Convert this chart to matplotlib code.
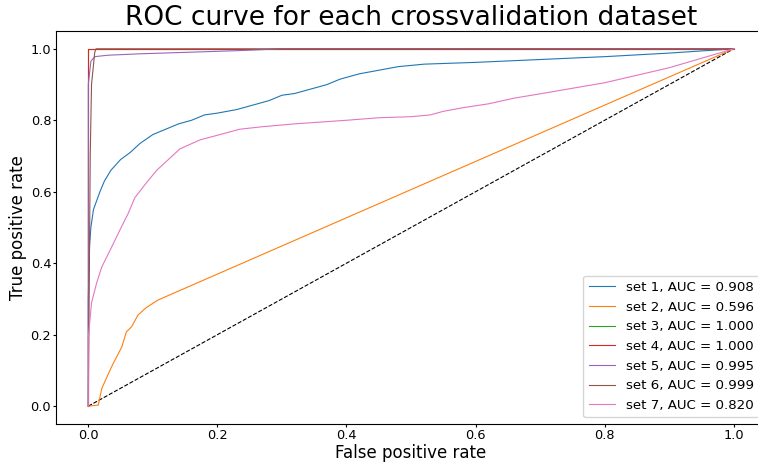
#!/usr/bin/env python3

import matplotlib
matplotlib.use('Agg')
import matplotlib.pyplot as plt


# ROC points (false positive rate, true positive rate) for each validation set
set1_fpr = [0.0, 0.0, 0.002, 0.004, 0.008, 0.012, 0.018, 0.025, 0.035, 0.05, 0.065, 0.08,
            0.1, 0.12, 0.14, 0.16, 0.18, 0.2, 0.23, 0.26, 0.28, 0.3, 0.32, 0.35, 0.37,
            0.39, 0.42, 0.45, 0.48, 0.52, 0.6, 0.7, 0.8, 0.9, 1.0]
set1_tpr = [0.0, 0.3, 0.45, 0.5, 0.55, 0.57, 0.6, 0.63, 0.66, 0.69, 0.71, 0.735,
            0.76, 0.775, 0.79, 0.80, 0.815, 0.82, 0.83, 0.845, 0.855, 0.87, 0.875, 0.89, 0.9,
            0.915, 0.93, 0.94, 0.95, 0.957, 0.962, 0.97, 0.978, 0.988, 1.0]

set2_fpr = [0.0, 0.0155, 0.021, 0.028, 0.036, 0.044, 0.052, 0.059, 0.067, 0.077, 0.09, 0.108, 1.0]
set2_tpr = [0.0, 0.003, 0.05, 0.078, 0.11, 0.138, 0.166, 0.208, 0.222, 0.255, 0.276, 0.297, 1.0]

set3_fpr = [0.0, 0.0, 1.0]
set3_tpr = [0.0, 1.0, 1.0]

set4_fpr = [0.0, 0.0, 1.0]
set4_tpr = [0.0, 1.0, 1.0]

set5_fpr = [0.0, 0.0, 0.004, 0.01, 0.03, 0.08, 0.15, 0.235, 0.3, 1.0]
set5_tpr = [0.0, 0.9, 0.965, 0.978, 0.982, 0.986, 0.99, 0.995, 1.0, 1.0]

set6_fpr = [0.0, 0.003, 0.005, 0.01, 0.012, 1.0]
set6_tpr = [0.0, 0.7, 0.9, 0.99, 1.0, 1.0]

set7_fpr = [0.0, 0.0, 0.005, 0.013, 0.021, 0.034, 0.049, 0.062, 0.072, 0.09, 0.106, 0.124,
            0.142, 0.173, 0.204, 0.235, 0.27, 0.32, 0.4, 0.45, 0.5, 0.53, 0.55, 0.58, 0.62,
            0.66, 0.7, 0.8, 0.9, 1.0]
set7_tpr = [0.0, 0.19, 0.289, 0.345, 0.39, 0.437, 0.493, 0.54, 0.583, 0.625, 0.66, 0.69,
            0.72, 0.745, 0.76, 0.775, 0.782, 0.79, 0.80, 0.807, 0.81, 0.815, 0.825, 0.835, 0.846,
            0.862, 0.874, 0.905, 0.947, 1.0]

fprs = [set1_fpr, set2_fpr, set3_fpr, set4_fpr, set5_fpr, set6_fpr, set7_fpr]
tprs = [set1_tpr, set2_tpr, set3_tpr, set4_tpr, set5_tpr, set6_tpr, set7_tpr]
aucs = [0.908, 0.596, 1.000, 1.000, 0.995, 0.999, 0.820]


def main():
    fig = plt.figure(figsize=(7.58, 4.63), dpi=100)
    ax = fig.add_axes([0.0739, 0.0842, 0.9367, 0.849])

    ax.plot([0, 1], [0, 1], 'k--', lw=0.8)
    for i, (fpr, tpr, auc) in enumerate(zip(fprs, tprs, aucs)):
        ax.plot(fpr, tpr, lw=0.8, label='set %d, AUC = %.3f' % (i + 1, auc))

    ax.set_xlim(-0.05, 1.05)
    ax.set_ylim(-0.05, 1.05)
    ax.tick_params(labelsize=9.3, length=2, pad=1.5)
    ax.set_xlabel('False positive rate', fontsize=12, labelpad=1.5)
    ax.set_ylabel('True positive rate', fontsize=12, labelpad=2.5)
    ax.set_title('ROC curve for each crossvalidation dataset', fontsize=19, pad=4.5)
    ax.legend(loc='lower right', fontsize=9.6)

    fig.savefig('out.png', dpi=100)
    plt.close(fig)


if __name__ == '__main__':
    main()
